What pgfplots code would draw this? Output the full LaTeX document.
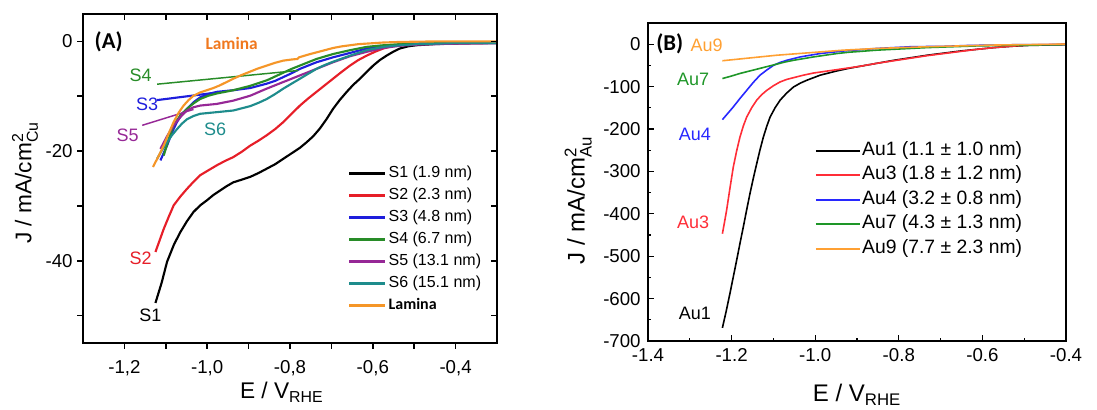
\documentclass[border=0pt]{standalone}
\usepackage{amsmath}
\usepackage{fontspec}
\setmainfont{Liberation Sans}
\newfontfamily\calibri{Carlito}
\usepackage{pgfplots}
\pgfplotsset{compat=1.18}

\newcommand{\fs}[1]{\fontsize{#1}{#1}\selectfont}

% frames and ticks of both panels, in pt
\newcommand{\panelframes}{%
\begin{scope}[x=1pt, y=1pt, black]
  \draw[line width=2pt] (62.25,50.25) rectangle (372.75,297);
  \foreach \x in {93.30,124.35,155.40,186.45,217.50,248.55,279.60,310.65,341.70} {
    \draw[line width=1.2pt] (\x,50.25) -- ++(0,-4.5);
    \draw[line width=1.2pt] (\x,297) -- ++(0,-4.5);
  }
  \foreach \y in {276.44,235.31,194.19,153.06,111.94,70.81} {
    \draw[line width=1.2pt] (62.25,\y) -- ++(-4.5,0);
    \draw[line width=1.2pt] (372.75,\y) -- ++(-4.5,0);
  }
  \draw[line width=1.5pt] (486,51.75) rectangle (799.5,290.25);
  \foreach \x in {548.70,611.40,674.10,736.80} {
    \draw[line width=1pt] (\x,51.75) -- ++(0,4);
  }
  \foreach \x in {517.35,580.05,642.75,705.45,768.15} {
    \draw[line width=1pt] (\x,51.75) -- ++(0,2.5);
  }
  \foreach \y in {274.35,242.55,210.75,178.95,147.15,115.35,83.55} {
    \draw[line width=1pt] (486,\y) -- ++(4,0);
  }
  \foreach \y in {258.45,226.65,194.85,163.05,131.25,99.45,67.65} {
    \draw[line width=1pt] (486,\y) -- ++(2.5,0);
  }
\end{scope}}

\begin{document}
\begin{tikzpicture}
\useasboundingbox (0,0) rectangle (822.75pt,307.5pt);
\panelframes

% ---------------- panel A: Cu
\begin{axis}[
  at={(62.25pt,50.25pt)}, anchor=south west,
  scale only axis, width=310.5pt, height=246.75pt,
  xmin=-1.3, xmax=-0.3, ymin=-55, ymax=5,
  xtick={-1.2,-1.0,-0.8,-0.6,-0.4},
  xticklabels={{-1,2},{-1,0},{-0,8},{-0,6},{-0,4}},
  ytick={0,-20,-40},
  yticklabels={0,-20,-40},
  xtick pos=left, ytick pos=left,
  tick align=outside,
  tick style={black, line width=1.2pt},
  axis line style={black, line width=2pt},
  tick label style={font=\fs{14}},
  xticklabel style={yshift=-5pt},
  xlabel={E / V$_{\text{RHE}}$},
  ylabel={J / mA/cm$^{\text{2}}_{\text{Cu}}$},
  label style={font=\fs{17}},
  xlabel style={at={(axis description cs:0.48,-0.15)}, anchor=center},
  ylabel style={at={(axis description cs:-0.14,0.487)}, anchor=center},
  legend cell align=left,
  legend image code/.code={\draw[#1,line width=1.8pt] (0pt,0pt) -- (27pt,0pt);},
  legend style={at={(0.64,0.546)}, anchor=north west, draw=none, fill=none,
    font=\fs{12}, inner sep=0pt, row sep=1.5pt,
    nodes={inner sep=1.5pt, text height=9pt, text depth=3pt}},
  every axis plot/.append style={line width=1.6pt},
]
\addplot[black] coordinates {(-1.125,-47.7) (-1.110,-44.0) (-1.097,-40.2) (-1.080,-37.0) (-1.065,-34.8) (-1.049,-32.8) (-1.033,-31.1) (-1.017,-29.9) (-1.001,-29.0) (-0.985,-28.0) (-0.969,-27.2) (-0.953,-26.4) (-0.937,-25.7) (-0.916,-25.2) (-0.896,-24.7) (-0.876,-24.0) (-0.856,-23.2) (-0.836,-22.4) (-0.816,-21.4) (-0.792,-20.2) (-0.776,-19.4) (-0.760,-18.4) (-0.744,-17.3) (-0.728,-15.9) (-0.712,-14.2) (-0.696,-12.3) (-0.680,-10.7) (-0.663,-9.2) (-0.647,-7.9) (-0.631,-6.8) (-0.615,-5.6) (-0.599,-4.4) (-0.583,-3.4) (-0.567,-2.6) (-0.551,-1.9) (-0.535,-1.3) (-0.515,-0.9) (-0.495,-0.7) (-0.454,-0.5) (-0.414,-0.4) (-0.35,-0.3) (-0.3,-0.3)};
\addlegendentry{S1 (1.9 nm)}
\addplot[color={rgb,255:red,230;green,30;blue,40}] coordinates {(-1.125,-38.4) (-1.105,-34.2) (-1.093,-32.0) (-1.081,-29.9) (-1.065,-28.3) (-1.049,-26.9) (-1.033,-25.6) (-1.017,-24.4) (-0.997,-23.5) (-0.977,-22.6) (-0.957,-21.8) (-0.937,-21.1) (-0.916,-20.1) (-0.896,-19.0) (-0.876,-18.1) (-0.856,-17.1) (-0.836,-16.0) (-0.816,-14.7) (-0.796,-13.2) (-0.776,-11.7) (-0.756,-10.4) (-0.736,-9.2) (-0.716,-8.0) (-0.696,-6.8) (-0.676,-5.6) (-0.655,-4.4) (-0.635,-3.4) (-0.615,-2.6) (-0.595,-1.9) (-0.575,-1.3) (-0.555,-0.9) (-0.535,-0.7) (-0.495,-0.5) (-0.454,-0.4) (-0.3,-0.3)};
\addlegendentry{S2 (2.3 nm)}
\addplot[color={rgb,255:red,30;green,30;blue,220}] coordinates {(-1.113,-21.7) (-1.097,-19.0) (-1.085,-16.6) (-1.073,-14.7) (-1.061,-13.3) (-1.049,-12.3) (-1.033,-11.1) (-1.017,-10.2) (-0.997,-9.6) (-0.977,-9.2) (-0.937,-8.9) (-0.896,-8.5) (-0.856,-7.7) (-0.836,-7.2) (-0.816,-6.5) (-0.796,-5.8) (-0.776,-5.0) (-0.756,-4.4) (-0.736,-3.8) (-0.696,-2.9) (-0.655,-2.1) (-0.615,-1.3) (-0.575,-0.9) (-0.535,-0.6) (-0.495,-0.4) (-0.4,-0.3) (-0.3,-0.3)};
\addlegendentry{S3 (4.8 nm)}
\addplot[color={rgb,255:red,30;green,30;blue,220}, forget plot] coordinates {(-1.121,-10.7) (-0.985,-9.4)};
\addplot[color={rgb,255:red,40;green,140;blue,40}] coordinates {(-1.105,-20.8) (-1.093,-17.8) (-1.081,-15.3) (-1.065,-13.5) (-1.049,-12.3) (-1.033,-11.3) (-1.017,-10.5) (-0.997,-9.9) (-0.977,-9.5) (-0.937,-8.9) (-0.896,-8.1) (-0.856,-7.1) (-0.836,-6.4) (-0.816,-5.7) (-0.796,-5.0) (-0.776,-4.4) (-0.736,-3.2) (-0.696,-2.3) (-0.655,-1.6) (-0.615,-1.0) (-0.575,-0.7) (-0.535,-0.5) (-0.45,-0.3) (-0.3,-0.2)};
\addlegendentry{S4 (6.7 nm)}
\addplot[color={rgb,255:red,40;green,140;blue,40}, forget plot, line width=1.1pt] coordinates {(-1.121,-7.8) (-0.780,-5.3)};
\addplot[color={rgb,255:red,150;green,40;blue,150}] coordinates {(-1.113,-19.6) (-1.097,-17.3) (-1.081,-15.3) (-1.065,-13.8) (-1.049,-12.6) (-1.033,-12.0) (-1.017,-11.7) (-0.977,-11.4) (-0.937,-10.8) (-0.896,-9.9) (-0.856,-8.6) (-0.816,-7.4) (-0.776,-6.2) (-0.736,-5.0) (-0.696,-3.8) (-0.655,-2.7) (-0.615,-1.9) (-0.575,-1.2) (-0.535,-0.8) (-0.495,-0.6) (-0.4,-0.4) (-0.3,-0.3)};
\addlegendentry{S5 (13.1 nm)}
\addplot[color={rgb,255:red,150;green,40;blue,150}, forget plot, line width=1.1pt] coordinates {(-1.157,-15.3) (-1.033,-12.4)};
\addplot[color={rgb,255:red,30;green,140;blue,140}] coordinates {(-1.121,-21.4) (-1.109,-19.8) (-1.097,-18.4) (-1.085,-17.1) (-1.073,-16.0) (-1.061,-15.0) (-1.049,-14.2) (-1.033,-13.6) (-1.017,-13.2) (-0.977,-12.9) (-0.937,-12.6) (-0.896,-11.8) (-0.876,-11.2) (-0.856,-10.5) (-0.836,-9.6) (-0.816,-8.6) (-0.796,-7.7) (-0.776,-6.8) (-0.756,-5.9) (-0.736,-5.0) (-0.716,-4.3) (-0.696,-3.7) (-0.655,-2.6) (-0.615,-1.6) (-0.575,-1.0) (-0.535,-0.7) (-0.495,-0.5) (-0.4,-0.3) (-0.3,-0.3)};
\addlegendentry{S6 (15.1 nm)}
\addplot[color={rgb,255:red,245;green,150;blue,40}] coordinates {(-1.131,-22.9) (-1.118,-21.0) (-1.105,-19.0) (-1.093,-16.8) (-1.081,-14.7) (-1.069,-13.0) (-1.057,-11.7) (-1.045,-10.7) (-1.033,-9.9) (-1.017,-9.3) (-1.001,-8.9) (-0.985,-8.5) (-0.969,-8.0) (-0.953,-7.4) (-0.937,-6.8) (-0.916,-6.1) (-0.896,-5.5) (-0.876,-4.9) (-0.856,-4.4) (-0.836,-3.9) (-0.816,-3.5) (-0.796,-3.3) (-0.782,-3.2) (-0.778,-2.9) (-0.756,-2.4) (-0.736,-2.0) (-0.716,-1.6) (-0.696,-1.2) (-0.675,-0.9) (-0.655,-0.7) (-0.635,-0.5) (-0.615,-0.4) (-0.575,-0.2) (-0.535,-0.1) (-0.45,0) (-0.3,0)};
\addlegendentry{\calibri\bfseries Lamina}

\node[font=\calibri\bfseries\fs{17}] at (axis cs:-1.238,0) {(A)};
\node[font=\calibri\bfseries\fs{13}, text={rgb,255:red,240;green,120;blue,30}] at (axis cs:-0.941,-0.3) {Lamina};
\node[font=\fs{13.5}, text={rgb,255:red,40;green,140;blue,40}] at (axis cs:-1.161,-6.2) {S4};
\node[font=\fs{13.5}, text={rgb,255:red,30;green,30;blue,220}] at (axis cs:-1.145,-11.4) {S3};
\node[font=\fs{13.5}, text={rgb,255:red,150;green,40;blue,150}] at (axis cs:-1.192,-17.2) {S5};
\node[font=\fs{13.5}, text={rgb,255:red,30;green,140;blue,140}] at (axis cs:-0.981,-16.0) {S6};
\node[font=\fs{13.5}, text={rgb,255:red,230;green,30;blue,40}] at (axis cs:-1.161,-39.6) {S2};
\node[font=\fs{13.5}, text=black] at (axis cs:-1.137,-49.9) {S1};
\end{axis}

% ---------------- panel B: Au
\begin{axis}[
  at={(486pt,51.75pt)}, anchor=south west,
  scale only axis, width=313.5pt, height=238.5pt,
  xmin=-1.4, xmax=-0.4, ymin=-700, ymax=50,
  xtick={-1.4,-1.2,-1.0,-0.8,-0.6,-0.4},
  xticklabels={-1.4,-1.2,-1.0,-0.8,-0.6,-0.4},
  ytick={0,-100,-200,-300,-400,-500,-600,-700},
  yticklabels={0,-100,-200,-300,-400,-500,-600,-700},
  xtick pos=left, ytick pos=left,
  tick align=inside,
  tick style={black, line width=1pt},
  axis line style={black, line width=1.5pt},
  tick label style={font=\fs{14}},
  xticklabel style={yshift=-2pt},
  yticklabel style={xshift=-2pt},
  xlabel={E / V$_{\text{RHE}}$},
  ylabel={J / mA/cm$^{\text{2}}_{\text{Au}}$},
  label style={font=\fs{18}},
  xlabel style={at={(axis description cs:0.5,-0.17)}, anchor=center},
  ylabel style={at={(axis description cs:-0.167,0.443)}, anchor=center},
  legend cell align=left,
  legend image code/.code={\draw[#1,line width=1.3pt] (0pt,0pt) -- (33pt,0pt);},
  legend style={at={(0.399,0.633)}, anchor=north west, draw=none, fill=none,
    font=\fs{14.5}, inner sep=0pt, row sep=2.4pt,
    nodes={inner sep=1pt, text height=10.5pt, text depth=3.5pt}},
  every axis plot/.append style={line width=1.2pt},
]
\addplot[black] coordinates {(-1.222,-669) (-1.213,-630) (-1.204,-588) (-1.196,-549) (-1.188,-510) (-1.180,-470) (-1.172,-431) (-1.164,-391) (-1.156,-352) (-1.148,-316) (-1.140,-282) (-1.132,-249) (-1.124,-219) (-1.116,-194) (-1.108,-172) (-1.096,-150) (-1.084,-132) (-1.068,-115) (-1.052,-101) (-1.036,-92) (-1.020,-85) (-1.004,-79) (-0.988,-73) (-0.968,-68) (-0.948,-63) (-0.920,-57) (-0.892,-52) (-0.852,-45) (-0.812,-38) (-0.772,-32) (-0.732,-26) (-0.692,-21) (-0.652,-16) (-0.612,-12) (-0.572,-8) (-0.532,-5) (-0.492,-3) (-0.45,-2) (-0.4,-1)};
\addlegendentry{Au1 (1.1 ± 1.0 nm)}
\addplot[color={rgb,255:red,255;green,45;blue,55}] coordinates {(-1.222,-447) (-1.217,-420) (-1.212,-392) (-1.204,-340) (-1.196,-290) (-1.188,-252) (-1.180,-219) (-1.172,-193) (-1.164,-172) (-1.152,-150) (-1.140,-132) (-1.128,-119) (-1.116,-109) (-1.100,-98) (-1.084,-89) (-1.068,-83) (-1.052,-79) (-1.028,-73) (-1.004,-68) (-0.976,-64) (-0.948,-60) (-0.920,-56) (-0.892,-52) (-0.852,-45) (-0.812,-39) (-0.772,-33) (-0.732,-27) (-0.692,-22) (-0.652,-17) (-0.612,-12) (-0.572,-8) (-0.532,-5) (-0.492,-2) (-0.45,-1) (-0.4,0)};
\addlegendentry{Au3 (1.8 ± 1.2 nm)}
\addplot[color={rgb,255:red,40;green,40;blue,255}] coordinates {(-1.222,-178) (-1.209,-163) (-1.196,-148) (-1.180,-128) (-1.164,-109) (-1.148,-90) (-1.132,-73) (-1.116,-61) (-1.100,-50) (-1.084,-43) (-1.068,-38) (-1.052,-34) (-1.036,-30) (-1.012,-26) (-0.988,-22) (-0.960,-19) (-0.932,-16) (-0.892,-13) (-0.852,-10) (-0.812,-8) (-0.772,-6) (-0.692,-5) (-0.632,-3) (-0.572,-2) (-0.5,-1) (-0.4,-1)};
\addlegendentry{Au4 (3.2 ± 0.8 nm)}
\addplot[color={rgb,255:red,30;green,150;blue,40}] coordinates {(-1.222,-81) (-1.200,-75) (-1.180,-69) (-1.156,-63) (-1.132,-57) (-1.112,-52) (-1.092,-47) (-1.072,-42) (-1.052,-38) (-1.028,-34) (-1.004,-30) (-0.976,-26) (-0.948,-22) (-0.920,-19) (-0.892,-17) (-0.852,-14) (-0.812,-12) (-0.772,-10) (-0.732,-8) (-0.672,-6) (-0.612,-4) (-0.55,-3) (-0.48,-2) (-0.4,-1)};
\addlegendentry{Au7 (4.3 ± 1.3 nm)}
\addplot[color={rgb,255:red,255;green,160;blue,50}] coordinates {(-1.222,-39) (-1.172,-34) (-1.132,-30) (-1.092,-26) (-1.052,-23) (-1.012,-20) (-0.972,-17) (-0.932,-14) (-0.892,-12) (-0.852,-10) (-0.792,-8) (-0.732,-6) (-0.652,-4) (-0.572,-2) (-0.5,-1) (-0.4,0)};
\addlegendentry{Au9 (7.7 ± 2.3 nm)}

\node[font=\calibri\bfseries\fs{17}] at (axis cs:-1.348,0) {(B)};
\node[font=\fs{13.5}, text={rgb,255:red,255;green,160;blue,50}] at (axis cs:-1.26,-2) {Au9};
\node[font=\fs{13.5}, text={rgb,255:red,30;green,150;blue,40}] at (axis cs:-1.292,-83) {Au7};
\node[font=\fs{13.5}, text={rgb,255:red,40;green,40;blue,255}] at (axis cs:-1.288,-212) {Au4};
\node[font=\fs{13.5}, text={rgb,255:red,255;green,45;blue,55}] at (axis cs:-1.292,-419) {Au3};
\node[font=\fs{13.5}, text=black] at (axis cs:-1.288,-636) {Au1};
\end{axis}

\panelframes
\end{tikzpicture}
\end{document}
